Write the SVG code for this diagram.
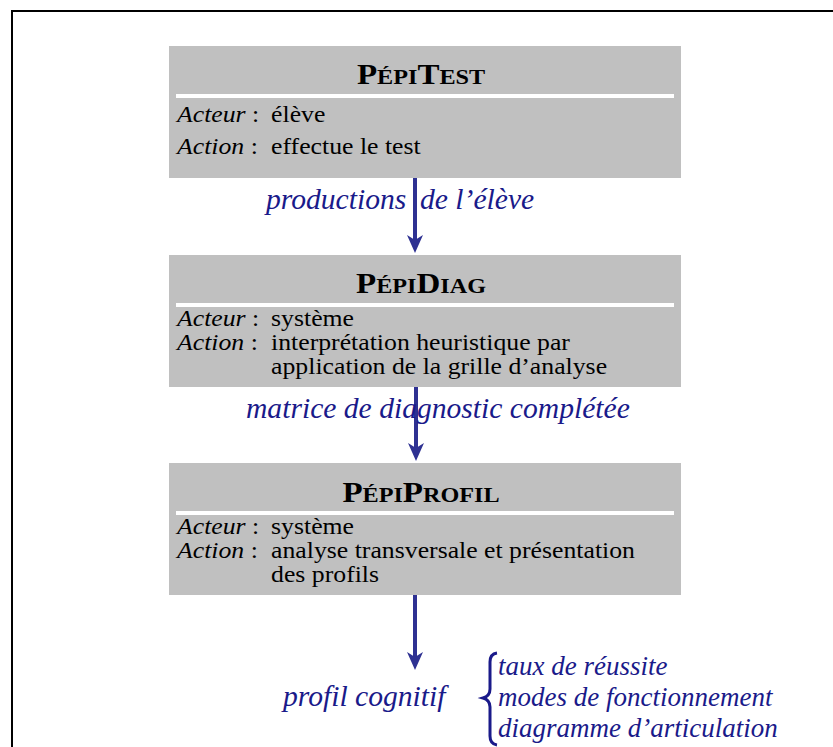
<svg xmlns="http://www.w3.org/2000/svg" width="833" height="747" viewBox="0 0 833 747">
<style>
.box{fill:#c0c0c0}
.sep{fill:#ffffff}
.title{font-family:"Liberation Serif",serif;font-weight:bold;fill:#000}
.big{font-size:30px}
.sm{font-size:22px}
.body{font-family:"Liberation Serif",serif;font-size:23px;fill:#000}
.it{font-style:italic}
.lbl{font-family:"Liberation Serif",serif;font-style:italic;font-size:29.6px;fill:#1a1a8a}
.lbl2{font-family:"Liberation Serif",serif;font-style:italic;font-size:27px;fill:#1a1a8a}
.conn{stroke:#2e3192;stroke-width:4;fill:none}
.frame{stroke:#000;stroke-width:2;fill:none}
</style>
<defs>
<marker id="ah" viewBox="0 0 18 16" refX="6" refY="8" markerWidth="18" markerHeight="16" markerUnits="userSpaceOnUse" orient="auto">
<path d="M0,0 L18,8 L0,16 L5,8 Z" fill="#2e3192"/>
</marker>
</defs>
<path class="frame" d="M833,11 H12 V747"/>

<g id="pepitest">
<rect class="box" x="169" y="46" width="512" height="132"/>
<rect class="sep" x="176" y="94" width="498" height="4"/>
<text class="title" text-anchor="middle" transform="translate(421,84) scale(1.1,1)"><tspan class="big">P</tspan><tspan class="sm">ÉPI</tspan><tspan class="big">T</tspan><tspan class="sm">EST</tspan></text>
<text class="body" transform="translate(177,122) scale(1.12,1)"><tspan class="it">Acteur</tspan> :<tspan x="84">élève</tspan></text>
<text class="body" transform="translate(177,154) scale(1.12,1)"><tspan class="it">Action</tspan> :<tspan x="84">effectue le test</tspan></text>
</g>

<g id="pepidiag">
<rect class="box" x="169" y="255" width="512" height="132"/>
<rect class="sep" x="176" y="303" width="498" height="4"/>
<text class="title" text-anchor="middle" transform="translate(421,293) scale(1.1,1)"><tspan class="big">P</tspan><tspan class="sm">ÉPI</tspan><tspan class="big">D</tspan><tspan class="sm">IAG</tspan></text>
<text class="body" transform="translate(177,326) scale(1.12,1)"><tspan class="it">Acteur</tspan> :<tspan x="84">système</tspan></text>
<text class="body" transform="translate(177,350) scale(1.12,1)"><tspan class="it">Action</tspan> :<tspan x="84">interprétation heuristique par</tspan></text>
<text class="body" transform="translate(177,374) scale(1.12,1)"><tspan x="84">application de la grille d’analyse</tspan></text>
</g>

<g id="pepiprofil">
<rect class="box" x="169" y="463" width="512" height="132"/>
<rect class="sep" x="176" y="511" width="498" height="4"/>
<text class="title" text-anchor="middle" transform="translate(421,502) scale(1.1,1)"><tspan class="big">P</tspan><tspan class="sm">ÉPI</tspan><tspan class="big">P</tspan><tspan class="sm">ROFIL</tspan></text>
<text class="body" transform="translate(177,534) scale(1.12,1)"><tspan class="it">Acteur</tspan> :<tspan x="84">système</tspan></text>
<text class="body" transform="translate(177,558) scale(1.12,1)"><tspan class="it">Action</tspan> :<tspan x="84">analyse transversale et présentation</tspan></text>
<text class="body" transform="translate(177,582) scale(1.12,1)"><tspan x="84">des profils</tspan></text>
</g>

<g id="connectors">
<line class="conn" x1="415" y1="178" x2="415" y2="241" marker-end="url(#ah)"/>
<line class="conn" x1="416" y1="387" x2="416" y2="449" marker-end="url(#ah)"/>
<line class="conn" x1="415" y1="595" x2="415" y2="658" marker-end="url(#ah)"/>
</g>

<g id="labels">
<text class="lbl" x="266" y="209">productions<tspan x="420">de l’élève</tspan></text>
<text class="lbl" x="246" y="418">matrice de diagnostic complétée</text>
</g>

<g id="output">
<text class="lbl" x="283" y="706">profil cognitif</text>
<path d="M497,653 Q490,654 490,662 V689 Q490,696 483,698 Q490,700 490,707 V736 Q490,744 497,745" fill="none" stroke="#1a1a8a" stroke-width="3"/>
<text class="lbl2" x="498" y="675">taux de réussite</text>
<text class="lbl2" x="498" y="706">modes de fonctionnement</text>
<text class="lbl2" x="498" y="737">diagramme d’articulation</text>
</g>
</svg>
